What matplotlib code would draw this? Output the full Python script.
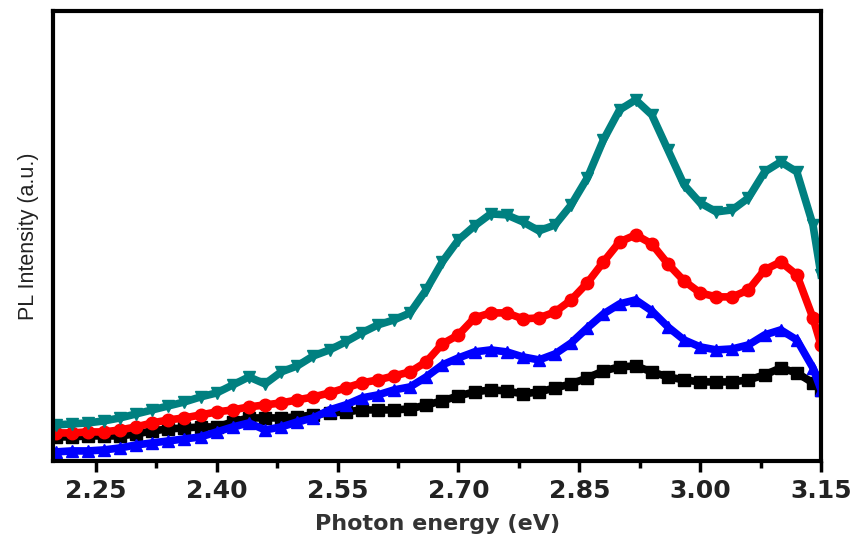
import numpy as np
import matplotlib.pyplot as plt

# photon energy grid (eV)
energy = np.array([2.20, 2.22, 2.24, 2.26, 2.28, 2.30, 2.32, 2.34, 2.36, 2.38,
                   2.40, 2.42, 2.44, 2.46, 2.48, 2.50, 2.52, 2.54, 2.56, 2.58,
                   2.60, 2.62, 2.64, 2.66, 2.68, 2.70, 2.72, 2.74, 2.76, 2.78,
                   2.80, 2.82, 2.84, 2.86, 2.88, 2.90, 2.92, 2.94, 2.96, 2.98,
                   3.00, 3.02, 3.04, 3.06, 3.08, 3.10, 3.12, 3.14, 3.15])

# PL intensity (a.u.)
teal = [36, 37, 38, 40, 43, 47, 51, 55, 59, 64, 68, 76, 84, 77, 89, 95, 105, 111,
        119, 128, 136, 141, 148, 171, 199, 221, 235, 247, 246, 239, 230, 236, 256,
        283, 321, 351, 361, 346, 311, 276, 258, 249, 251, 263, 289, 299, 289, 236, 186]
red = [28, 28, 29, 29, 31, 34, 38, 41, 43, 46, 49, 51, 54, 56, 58, 61, 64, 68, 73,
       78, 81, 85, 89, 99, 117, 126, 143, 148, 148, 142, 143, 149, 161, 178, 199,
       219, 226, 217, 197, 180, 168, 164, 164, 171, 191, 199, 186, 143, 116]
blue = [9, 10, 10, 11, 13, 16, 18, 20, 22, 24, 29, 34, 38, 31, 34, 39, 43, 51, 56,
        63, 66, 71, 74, 84, 96, 103, 109, 111, 109, 104, 101, 107, 118, 133, 147,
        157, 161, 150, 134, 121, 114, 111, 112, 116, 126, 131, 121, 93, 71]
black = [24, 24, 25, 25, 25, 27, 30, 32, 33, 34, 34, 39, 43, 43, 43, 44, 46, 48, 49,
         51, 51, 51, 52, 56, 60, 65, 69, 71, 70, 67, 69, 73, 77, 83, 90, 94, 95, 89,
         84, 81, 79, 79, 79, 81, 86, 93, 88, 78, 71]

xticks = [2.25, 2.40, 2.55, 2.70, 2.85, 3.00, 3.15]

plt.rcParams['font.family'] = ['Liberation Sans', 'DejaVu Sans']

fig = plt.figure(figsize=(8.57, 5.41), dpi=100)
ax = fig.add_axes([0.062, 0.148, 0.896, 0.832])

series = [(black, 'black', 's'), (blue, '#0000ff', '^'),
          (red, '#ff0000', 'o'), (teal, '#008080', 'v')]
for vals, col, mk in series:
    ax.plot(energy, vals, color=col, lw=5.5, marker=mk, ms=9, mec=col, mfc=col)

ax.set_xlim(2.197, 3.15)
ax.set_ylim(0, 450)
ax.set_xticks(xticks)
ax.set_xticklabels([f"{t:.2f}" for t in xticks], fontsize=18, fontweight='bold',
                   family='DejaVu Sans', color='#222222')
ax.set_xticks([2.325, 2.475, 2.625, 2.775, 2.925, 3.075], minor=True)
ax.set_yticks([])
ax.tick_params(axis='x', which='major', direction='out', length=8, width=2.5, pad=5)
ax.tick_params(axis='x', which='minor', direction='out', length=5, width=2.5)
for s in ax.spines.values():
    s.set_linewidth(3)

ax.set_xlabel("Photon energy (eV)", fontsize=16, fontweight='bold', family='DejaVu Sans',
              color='#333333', labelpad=8)
ax.set_ylabel("PL Intensity (a.u.)", fontsize=15.5, color='#222222', labelpad=10)

fig.savefig("out.png", dpi=100)
